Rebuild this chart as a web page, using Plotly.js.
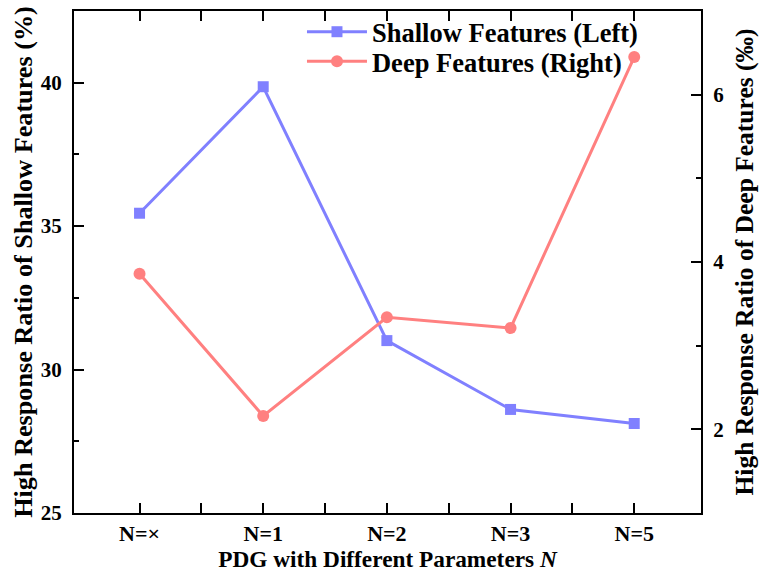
<!DOCTYPE html>
<html>
<head>
<meta charset="utf-8">
<script src="https://cdn.plot.ly/plotly-3.0.1.min.js"></script>
<style>html,body{margin:0;padding:0;background:#fff;}#chart{width:759px;height:579px;}</style>
</head>
<body>
<div id="chart"></div>
<script>
const categories = ["N=\u00d7", "N=1", "N=2", "N=3", "N=5"];
const catPos = [0, 1, 2, 3, 4];
const shallow = [35.45, 39.86, 31.01, 28.61, 28.12];
const deep = [3.86, 2.16, 3.34, 3.21, 6.45];
const leftTicks = [25, 30, 35, 40];
const rightTicks = [2, 4, 6];

const FONT = "Liberation Serif";
const b = s => "<b>" + s + "</b>";

const traces = [
  {
    x: catPos, y: shallow, name: b("Shallow Features (Left)"), yaxis: "y", legend: "legend",
    mode: "lines+markers", type: "scatter",
    line: {color: "#8080ff", width: 3},
    marker: {symbol: "square", size: 11, color: "#8080ff"}
  },
  {
    x: catPos, y: deep, name: b("Deep Features (Right)"), yaxis: "y2", legend: "legend2",
    mode: "lines+markers", type: "scatter",
    line: {color: "#ff8080", width: 3},
    marker: {symbol: "circle", size: 12, color: "#ff8080"}
  }
];

const legendBase = {
  xanchor: "left", yanchor: "top",
  bgcolor: "rgba(0,0,0,0)", borderwidth: 0,
  font: {family: FONT, size: 26.5, color: "#000"},
  itemwidth: 60
};

const layout = {
  width: 759, height: 579,
  margin: {l: 74, r: 58, t: 8, b: 66},
  paper_bgcolor: "#fff", plot_bgcolor: "#fff",
  font: {family: FONT, size: 21, color: "#000"},
  showlegend: true,
  legend: Object.assign({}, legendBase, {x: 0.3636, y: 1.006}),
  legend2: Object.assign({}, legendBase, {x: 0.3636, y: 0.947}),
  xaxis: {
    range: [-0.53, 4.54], tickmode: "array", tickvals: catPos, ticktext: categories.map(b),
    showline: true, linecolor: "#000", linewidth: 2, mirror: "allticks",
    ticks: "inside", ticklen: 10, tickwidth: 2, tickcolor: "#000",
    minor: {tickmode: "array", tickvals: [0.5, 1.5, 2.5, 3.5], ticks: "inside", ticklen: 5, tickwidth: 2, tickcolor: "#000"},
    showgrid: false, zeroline: false,
    tickfont: {family: FONT, size: 22}, ticklabelstandoff: 0,
    title: {text: b("PDG with Different Parameters <i>N</i>"), font: {family: FONT, size: 23.3}, standoff: 0}
  },
  yaxis: {
    range: [25, 42.5], tickmode: "array", tickvals: leftTicks, ticktext: leftTicks.map(v => b(v)),
    showline: true, linecolor: "#000", linewidth: 2, mirror: false,
    ticks: "inside", ticklen: 10, tickwidth: 2, tickcolor: "#000",
    minor: {tickmode: "array", tickvals: [27.5, 32.5, 37.5], ticks: "inside", ticklen: 5, tickwidth: 2, tickcolor: "#000"},
    showgrid: false, zeroline: false,
    tickfont: {family: FONT, size: 21}, ticklabelstandoff: 6,
    title: {text: b("High Response Ratio of Shallow Features (%)"), font: {family: FONT, size: 26.2}, standoff: 1}
  },
  yaxis2: {
    range: [1, 7], tickmode: "array", tickvals: rightTicks, ticktext: rightTicks.map(v => b(v)), overlaying: "y", side: "right",
    showline: true, linecolor: "#000", linewidth: 2,
    ticks: "inside", ticklen: 10, tickwidth: 2, tickcolor: "#000",
    minor: {tickmode: "array", tickvals: [3, 5], ticks: "inside", ticklen: 5, tickwidth: 2, tickcolor: "#000"},
    showgrid: false, zeroline: false,
    tickfont: {family: FONT, size: 21}, ticklabelstandoff: 6,
    title: {text: b("High Response Ratio of Deep Features (\u2030)"), font: {family: FONT, size: 25.5}, standoff: 13}
  }
};

Plotly.newPlot("chart", traces, layout, {displayModeBar: false, staticPlot: true});
</script>
</body>
</html>
